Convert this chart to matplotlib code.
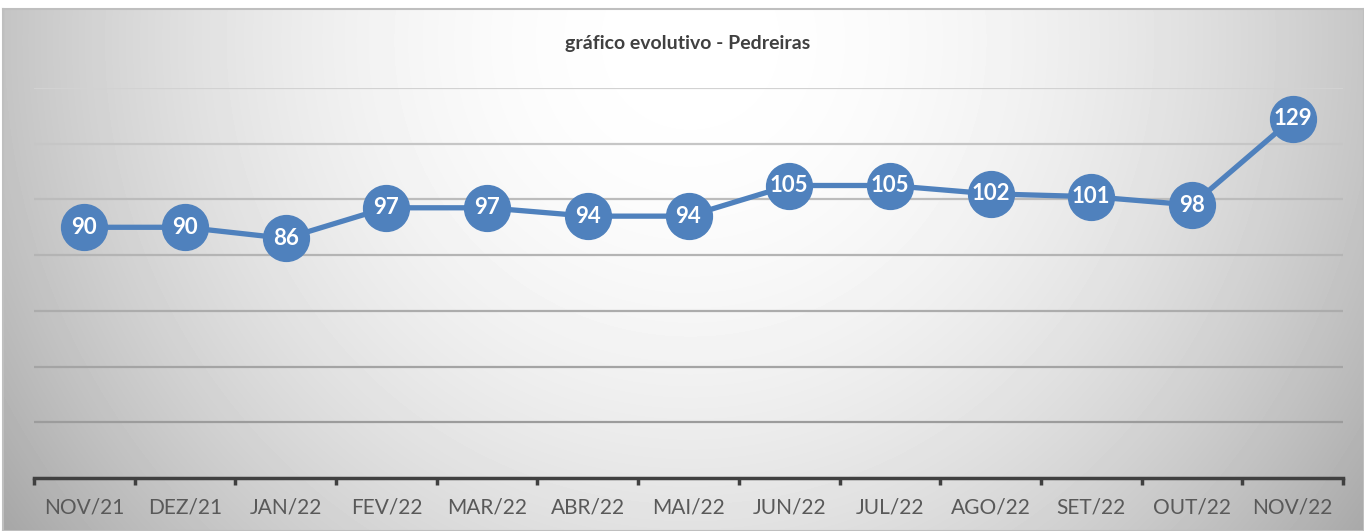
"""
Gráfico evolutivo - Pedreiras: line chart with value labels in circles.
"""

import matplotlib.pyplot as plt
import numpy as np

months = ["NOV/21", "DEZ/21", "JAN/22", "FEV/22", "MAR/22", "ABR/22", "MAI/22",
          "JUN/22", "JUL/22", "AGO/22", "SET/22", "OUT/22", "NOV/22"]
values = [90, 90, 86, 97, 97, 94, 94, 105, 105, 102, 101, 98, 129]
grid_levels = [20, 40, 60, 80, 100, 120, 140]

W, H = 1364, 531
BLUE = "#4F81BD"

plt.rcParams["font.family"] = ["Lato", "DejaVu Sans"]

fig = plt.figure(figsize=(W / 100, H / 100), dpi=100)
fig.patch.set_facecolor("white")

# radial grey gradient behind the chart area
frame_left, frame_top = 3, 9
bg = fig.add_axes([frame_left / W, 0, 1 - frame_left / W, (H - frame_top) / H])
xx, yy = np.meshgrid(np.arange(frame_left, W), np.arange(frame_top, H))
r2 = (xx - 690) ** 2 + (yy - 40) ** 2
grey = np.clip(255 - 1.25e-4 * r2, 150, 255) / 255
bg.imshow(grey, cmap="gray", vmin=0, vmax=1, aspect="auto", interpolation="bilinear")
bg.set_xticks([])
bg.set_yticks([])
for s in bg.spines.values():
    s.set_color("#bfbfbf")
    s.set_linewidth(1.5)

# plot area
left, right, bottom, top = 34, 1343, 478, 88
ax = fig.add_axes([left / W, (H - bottom) / H, (right - left) / W, (bottom - top) / H])
ax.patch.set_alpha(0)
ax.set_xlim(-0.5, len(months) - 0.5)
ax.set_ylim(0, 140)

# gridlines get darker towards the bottom
grid_cols = ["#9c9c9c", "#a4a4a4", "#acacac", "#b4b4b4", "#bcbcbc", "#c6c6c6", "#d2d2d2"]
for lvl, c in zip(grid_levels, grid_cols):
    ax.axhline(lvl, color=c, lw=1.6, zorder=1)

x = np.arange(len(months))
ax.plot(x, values, color=BLUE, lw=3.8, marker="o", markersize=33,
        markerfacecolor=BLUE, markeredgecolor=BLUE, zorder=3, solid_capstyle="round")
for xi, v in zip(x, values):
    ax.text(xi, v, str(v), ha="center", va="center", color="white",
            fontsize=16, fontweight="bold", zorder=4)

for s in ["top", "right", "left"]:
    ax.spines[s].set_visible(False)
ax.spines["bottom"].set_color("#404040")
ax.spines["bottom"].set_linewidth(2.5)
ax.set_yticks([])
ax.set_xticks(x)
ax.set_xticklabels(months, fontsize=15, color="#595959")
ax.tick_params(axis="x", which="major", length=0, pad=14)
ax.set_xticks(np.arange(len(months) + 1) - 0.5, minor=True)
ax.tick_params(axis="x", which="minor", length=5, width=2.5, color="#404040")

fig.text(688 / W, 1 - 44 / H, "gráfico evolutivo - Pedreiras", ha="center", va="center",
         fontsize=14, fontweight="bold", color="#404040")

fig.savefig("out.png", dpi=100)
plt.close(fig)
